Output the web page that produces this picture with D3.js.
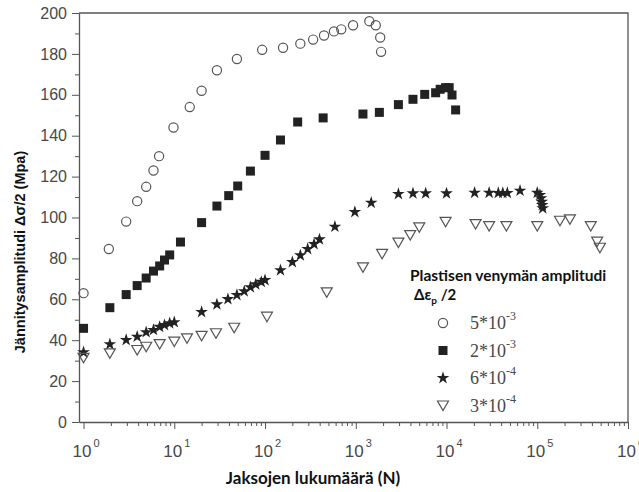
<!DOCTYPE html>
<html>
<head>
<meta charset="utf-8">
<script src="https://cdn.jsdelivr.net/npm/d3@7"></script>
<style>
  body { margin: 0; background: #fff; }
  svg { display: block; }
</style>
</head>
<body>
<div id="chart"></div>
<script>
// cycles N and stress amplitude (MPa), one pair of arrays per strain amplitude
var nA = [1, 1.9, 2.95, 3.9, 4.9, 5.9, 6.8, 9.8, 14.8, 20, 29.5, 49, 93, 158, 245, 339, 447, 575, 692, 933, 1410, 1660, 1860, 1900];
var sA = [63, 84.6, 98, 108, 115, 123, 130, 144, 154, 162, 172, 177.5, 182, 183, 185, 187, 189, 191, 192, 194, 196, 194, 188, 181];

var nB = [1, 1.95, 2.95, 3.9, 4.9, 5.9, 6.9, 7.8, 8.9, 11.7, 20, 29.5, 39.8, 50, 69, 100, 148, 229, 437, 1200, 1820, 2950, 4270, 5750, 7590, 8510, 9770, 10700, 11500, 12600];
var sB = [45.8, 55.9, 62.3, 66.7, 70.4, 73.8, 76.3, 79.2, 81.7, 88, 97.5, 105.6, 110.7, 115.4, 122.7, 130.4, 137.9, 146.7, 148.7, 150.6, 151.4, 155.2, 157.8, 160.2, 161, 162.7, 163.5, 163.5, 159.9, 152.6];

var nC = [1, 1.95, 2.95, 3.9, 4.9, 5.9, 6.9, 7.8, 8.9, 10, 20, 29.5, 39, 49, 59, 69, 79, 91, 100, 148, 200, 245, 295, 347, 398, 589, 977, 1480, 2950, 4270, 5890, 10000, 20400, 29500, 37200, 41700, 46800, 64600, 100000, 107000, 110000, 112000, 113500, 115000];
var sC = [34.1, 38, 40.1, 41.7, 43.9, 45, 46.5, 47.4, 48.3, 48.8, 53.8, 57.5, 60.1, 62.1, 63.9, 65.9, 67.3, 68.5, 69.4, 74.2, 78.2, 81.5, 84.6, 87, 89.3, 95.5, 102.7, 107.2, 111.5, 111.8, 111.8, 111.8, 112.1, 112.1, 112, 112, 112, 113.1, 112.1, 111, 109.4, 107.7, 106.1, 104.5];

var nD = [1, 1.95, 3.9, 4.9, 6.9, 10, 13.8, 20, 28.8, 45.7, 105, 479, 1200, 1950, 2950, 3980, 5010, 9770, 20900, 29500, 45700, 100000, 178000, 229000, 389000, 457000, 490000];
var sD = [31.4, 33.6, 35.2, 36.8, 38.1, 39.3, 40.9, 42.1, 43.4, 46.1, 51.5, 63.4, 75.6, 82.2, 87.7, 91.4, 95.2, 97.9, 96.8, 95.8, 95.8, 95.8, 98.4, 99.1, 95.8, 88.2, 85.2];

var yTicks = [0, 20, 40, 60, 80, 100, 120, 140, 160, 180, 200];
var xExponents = [0, 1, 2, 3, 4, 5, 6];
var legendLabels = [["5*10", "-3"], ["2*10", "-3"], ["6*10", "-4"], ["3*10", "-4"]];

var margin = { top: 13, right: 11, bottom: 70, left: 79 },
    width = 639 - margin.left - margin.right,
    height = 492 - margin.top - margin.bottom;

var svg = d3.select("#chart")
    .append("svg")
    .attr("width", 639)
    .attr("height", 492)
    .append("g")
    .attr("transform", "translate(" + margin.left + "," + margin.top + ")");

var x = d3.scaleLog()
    .domain([Math.pow(10, -0.05), 1e6])
    .range([0, width]);

var y = d3.scaleLinear()
    .domain([0, 200])
    .range([height, 0]);

var axisColor = "#555";
var textColor = "#484848";

// frame top + right
svg.append("path")
    .attr("d", "M0,0H" + width + "V" + height)
    .attr("fill", "none")
    .attr("stroke", axisColor)
    .attr("stroke-width", 1.3);

// y axis, major + minor ticks
var yMinor = d3.range(10, 200, 20);
svg.append("g")
    .call(d3.axisLeft(y).tickValues(yMinor).tickSize(4).tickFormat(""))
    .call(function (g) { g.select(".domain").remove(); })
    .selectAll("line").attr("stroke", axisColor);

var yAxis = svg.append("g")
    .call(d3.axisLeft(y).tickValues(yTicks).tickSize(7).tickPadding(5).tickSizeOuter(0));
yAxis.selectAll("line").attr("stroke", axisColor);
yAxis.select(".domain").attr("stroke", axisColor).attr("stroke-width", 1.3);
yAxis.selectAll("text")
    .attr("fill", textColor)
    .style("font-family", "'Liberation Sans', Arial, sans-serif")
    .style("font-size", "16px");

// x axis, minor ticks at 2..9 of each decade
var xMinor = [];
xExponents.slice(0, 6).forEach(function (e) {
    for (var k = 2; k <= 9; k++) xMinor.push(k * Math.pow(10, e));
});
svg.append("g")
    .attr("transform", "translate(0," + height + ")")
    .call(d3.axisBottom(x).tickValues(xMinor).tickSize(4).tickFormat(""))
    .call(function (g) { g.select(".domain").remove(); })
    .selectAll("line").attr("stroke", axisColor);

var xAxis = svg.append("g")
    .attr("transform", "translate(0," + height + ")")
    .call(d3.axisBottom(x)
        .tickValues(xExponents.map(function (e) { return Math.pow(10, e); }))
        .tickSize(7).tickSizeOuter(0).tickFormat(""));
xAxis.selectAll("line").attr("stroke", axisColor);
xAxis.select(".domain").attr("stroke", axisColor).attr("stroke-width", 1.3);

// x tick labels 10^n
var xl = svg.append("g").selectAll("text")
    .data(xExponents)
    .enter()
    .append("text")
    .attr("x", function (d) { return x(Math.pow(10, d)) - 11; })
    .attr("y", height + 35)
    .attr("fill", textColor)
    .style("font-family", "'Liberation Sans', Arial, sans-serif")
    .style("font-size", "17px");
xl.append("tspan").text("10");
xl.append("tspan")
    .attr("dy", -10)
    .attr("dx", 2)
    .style("font-size", "11px")
    .text(function (d) { return d; });

// axis titles
svg.append("text")
    .attr("x", 234)
    .attr("y", height + 62)
    .attr("text-anchor", "middle")
    .attr("fill", "#111")
    .style("font-family", "Lato, 'Open Sans', sans-serif")
    .style("font-weight", "bold")
    .style("font-size", "17px")
    .text("Jaksojen lukumäärä (N)");

svg.append("text")
    .attr("transform", "rotate(-90)")
    .attr("x", -(252 - margin.top))
    .attr("y", -54)
    .attr("text-anchor", "middle")
    .attr("fill", "#111")
    .style("font-family", "'Liberation Sans', Arial, sans-serif")
    .style("font-weight", "bold")
    .style("font-size", "14.5px")
    .text("Jännitysamplitudi  Δσ/2 (Mpa)");

// markers
var starPath = d3.symbol().type(d3.symbolStar).size(50)();
var triPath = "M-5.5,-4.5L5.5,-4.5L0,5Z";

function pairs(n, s) {
    return n.map(function (v, i) { return [v, s[i]]; });
}

svg.append("g").selectAll("circle")
    .data(pairs(nA, sA))
    .enter()
    .append("circle")
    .attr("cx", function (d) { return x(d[0]); })
    .attr("cy", function (d) { return y(d[1]); })
    .attr("r", 4.6)
    .attr("fill", "none")
    .attr("stroke", "#555")
    .attr("stroke-width", 1.2);

svg.append("g").selectAll("rect")
    .data(pairs(nB, sB))
    .enter()
    .append("rect")
    .attr("x", function (d) { return x(d[0]) - 4.5; })
    .attr("y", function (d) { return y(d[1]) - 4.5; })
    .attr("width", 9)
    .attr("height", 9)
    .attr("fill", "#222");

svg.append("g").selectAll("path")
    .data(pairs(nC, sC))
    .enter()
    .append("path")
    .attr("d", starPath)
    .attr("transform", function (d) { return "translate(" + x(d[0]) + "," + y(d[1]) + ")"; })
    .attr("fill", "#222");

svg.append("g").selectAll("path")
    .data(pairs(nD, sD))
    .enter()
    .append("path")
    .attr("d", triPath)
    .attr("transform", function (d) { return "translate(" + x(d[0]) + "," + y(d[1]) + ")"; })
    .attr("fill", "none")
    .attr("stroke", "#555")
    .attr("stroke-width", 1.2);

// legend
var lg = svg.append("g").attr("transform", "translate(" + (410 - margin.left) + "," + (281 - margin.top) + ")");
lg.append("text")
    .attr("x", 0).attr("y", 0)
    .attr("fill", "#111")
    .style("font-family", "Lato, 'Open Sans', sans-serif")
    .style("font-weight", "bold")
    .style("font-size", "15.5px")
    .text("Plastisen venymän amplitudi");
var sub = lg.append("text")
    .attr("x", 4).attr("y", 19)
    .attr("fill", "#111")
    .style("font-family", "Lato, 'Open Sans', sans-serif")
    .style("font-weight", "bold")
    .style("font-size", "15px");
sub.append("tspan").text("Δε");
sub.append("tspan").attr("dy", 4).style("font-size", "10px").text("p");
sub.append("tspan").attr("dy", -4).text(" /2");

var rows = lg.selectAll(".row")
    .data(legendLabels)
    .enter()
    .append("g")
    .attr("transform", function (d, i) { return "translate(0," + (42 + i * 27.5) + ")"; });

rows.each(function (d, i) {
    var g = d3.select(this);
    if (i === 0) g.append("circle").attr("cx", 33).attr("cy", 0).attr("r", 4.6).attr("fill", "none").attr("stroke", "#555").attr("stroke-width", 1.2);
    if (i === 1) g.append("rect").attr("x", 28.5).attr("y", -4.5).attr("width", 9).attr("height", 9).attr("fill", "#222");
    if (i === 2) g.append("path").attr("d", starPath).attr("transform", "translate(33,0)").attr("fill", "#222");
    if (i === 3) g.append("path").attr("d", triPath).attr("transform", "translate(33,0)").attr("fill", "none").attr("stroke", "#555").attr("stroke-width", 1.2);
});

var lt = rows.append("text")
    .attr("x", 60)
    .attr("y", 6)
    .attr("fill", textColor)
    .style("font-family", "'Liberation Serif', 'Times New Roman', serif")
    .style("font-size", "18px");
lt.append("tspan").text(function (d) { return d[0]; });
lt.append("tspan").attr("dy", -9).style("font-size", "12px").text(function (d) { return d[1]; });
</script>
</body>
</html>
